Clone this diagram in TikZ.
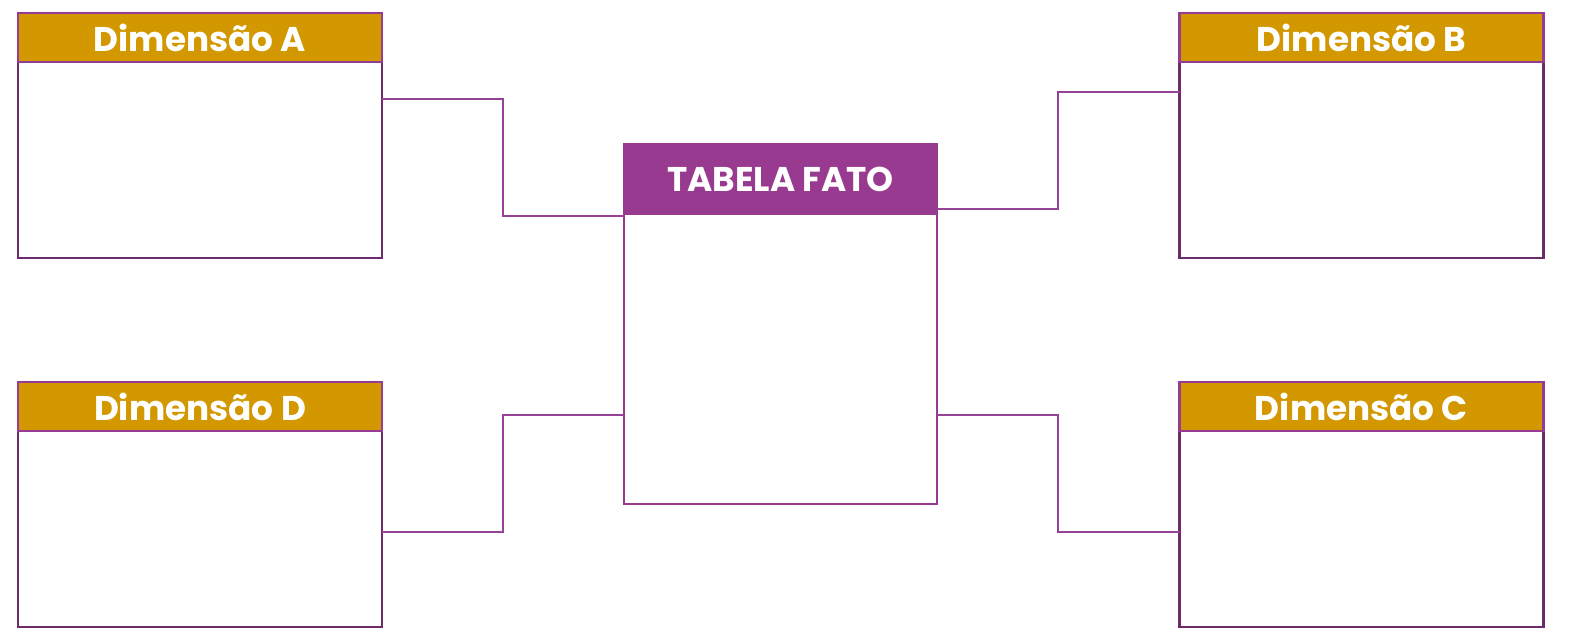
\documentclass[tikz,border=0pt]{standalone}
\usepackage{fontspec}
\setmainfont{Poppins}
\usepackage{tikz}
\usetikzlibrary{calc, positioning}
\definecolor{dimGold}{RGB}{211, 152, 0}
\definecolor{boxPurple}{RGB}{108, 44, 108}
\definecolor{headPurple}{RGB}{150, 60, 150}
\definecolor{fatoPurple}{RGB}{153, 58, 145}
\definecolor{linePurple}{RGB}{150, 66, 150}
\newcommand{\headfont}{\fontsize{19.5}{23}\selectfont\bfseries}

\begin{document}
\begin{tikzpicture}[
    x = 0.02cm, y = -0.02cm,
    dim/.style = {draw=boxPurple, line width=1.5pt, fill=white,
        minimum width=7.28cm, minimum height=4.9cm,
        inner sep=0pt, outer sep=0pt},
    dimhead/.style = {draw=headPurple, line width=1.5pt, fill=dimGold,
        minimum width=7.28cm, minimum height=0.98cm, inner sep=0pt,
        outer sep=0pt, anchor=north, text=white, font=\headfont},
    fato/.style = {draw=fatoPurple, line width=1.3pt, fill=white,
        minimum width=6.26cm, minimum height=7.2cm,
        inner sep=0pt, outer sep=0pt},
    fatohead/.style = {fill=fatoPurple, minimum width=6.26cm,
        minimum height=1.42cm, inner sep=0pt, outer sep=0pt,
        anchor=north, text=white, font=\headfont},
    link/.style = {draw=linePurple, line width=1pt}
  ]
  \useasboundingbox (0,0) rectangle (1584,633);

  % dimensoes
  \node[dim] (A) at (200,135.5) {};
  \node[dimhead] (Ahead) at (A.north) {Dimensão A};
  \node[dim] (B) at (1361.5,135.5) {};
  \node[dimhead] (Bhead) at (B.north) {Dimensão B};
  \node[dim] (C) at (1361.5,504.5) {};
  \node[dimhead] (Chead) at (C.north) {Dimensão C};
  \node[dim] (D) at (200,504.5) {};
  \node[dimhead] (Dhead) at (D.north) {Dimensão D};

  % fato
  \node[fato] (F) at (780.5,324) {};
  \node[fatohead] (Fhead) at (F.north) {TABELA FATO};

  % pontos de ligacao
  \coordinate (a1) at ($(A.north east)!.35!(A.south east)$);
  \coordinate (fa) at ($(F.north west)!.2!(F.south west)$);
  \coordinate (fb) at ($(F.north east)!.18!(F.south east)$);
  \coordinate (b1) at ($(B.north west)!.322!(B.south west)$);
  \coordinate (fc) at ($(F.north east)!.753!(F.south east)$);
  \coordinate (c1) at ($(C.north west)!.612!(C.south west)$);
  \coordinate (d1) at ($(D.north east)!.612!(D.south east)$);
  \coordinate (fd) at ($(F.north west)!.753!(F.south west)$);

  % ligacoes
  \draw[link] (a1) -| ($(a1)!.5!(fa)$) |- (fa);
  \draw[link] (fb) -| ($(fb)!.5!(b1)$) |- (b1);
  \draw[link] (fc) -| ($(fc)!.5!(c1)$) |- (c1);
  \draw[link] (d1) -| ($(d1)!.5!(fd)$) |- (fd);
\end{tikzpicture}
\end{document}
